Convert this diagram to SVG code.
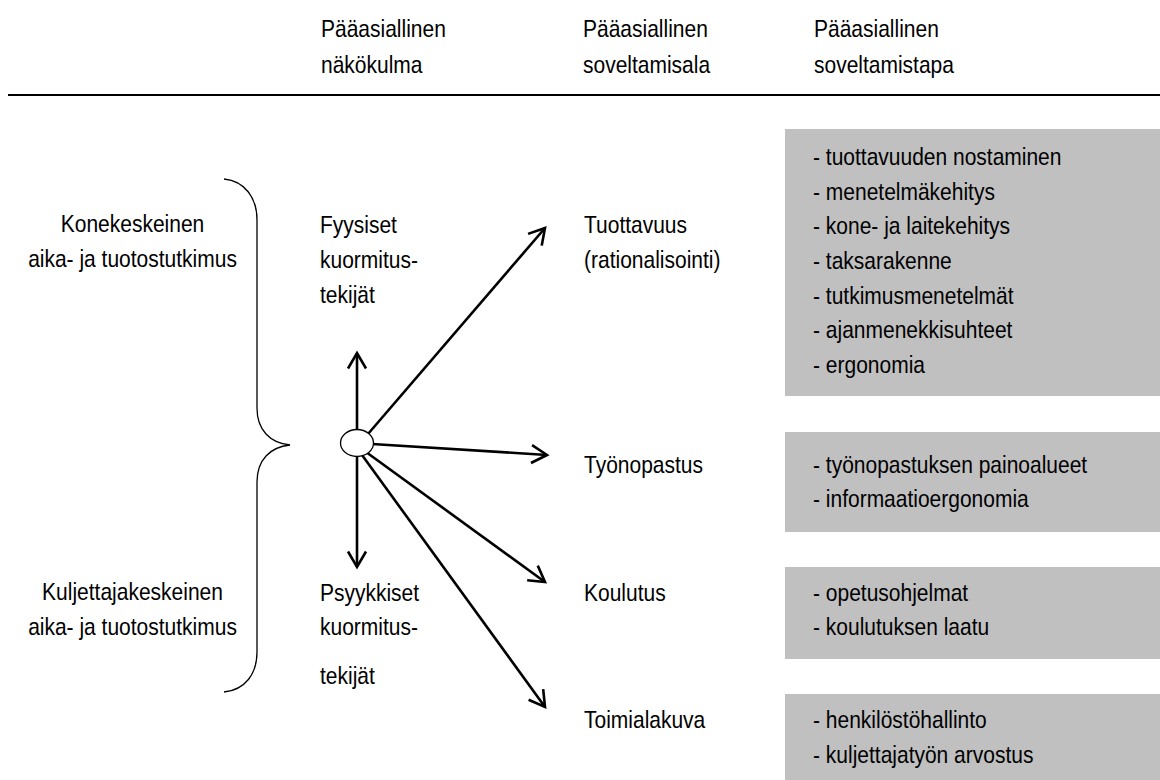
<svg xmlns="http://www.w3.org/2000/svg" width="1160" height="780" viewBox="0 0 1160 780">
<style>
.t{font-family:"Liberation Sans",Arial,sans-serif;font-size:24px;fill:#000}
.c{text-anchor:middle}
.box{fill:#c0c0c0;stroke:none}
.arr{stroke:#000;stroke-width:2.6;fill:none;marker-end:url(#ah)}
.brace{stroke:#000;stroke-width:1.3;fill:none}
</style>
<defs>
<marker id="ah" markerUnits="userSpaceOnUse" markerWidth="24" markerHeight="24" refX="17" refY="10" orient="auto" overflow="visible">
<path d="M1.5,1 L17,10 L1.5,19" fill="none" stroke="#000" stroke-width="2.6"/>
</marker>
</defs>
<rect width="1160" height="780" fill="#fff"/>
<g id="header">
<text class="t" transform="translate(321,37) scale(0.875,1)"><tspan x="0" y="0">Pääasiallinen</tspan><tspan x="0" y="36">näkökulma</tspan></text>
<text class="t" transform="translate(583,37) scale(0.875,1)"><tspan x="0" y="0">Pääasiallinen</tspan><tspan x="0" y="36">soveltamisala</tspan></text>
<text class="t" transform="translate(814,37) scale(0.875,1)"><tspan x="0" y="0">Pääasiallinen</tspan><tspan x="0" y="36">soveltamistapa</tspan></text>
<line x1="8" y1="95" x2="1160" y2="95" stroke="#000" stroke-width="2"/>
</g>
<g id="kone">
<text class="t c" transform="translate(132.5,232) scale(0.875,1)"><tspan x="0" y="0">Konekeskeinen</tspan><tspan x="0" y="35">aika- ja tuotostutkimus</tspan></text>
</g>
<g id="kuljettaja">
<text class="t c" transform="translate(132.5,600) scale(0.875,1)"><tspan x="0" y="0">Kuljettajakeskeinen</tspan><tspan x="0" y="35">aika- ja tuotostutkimus</tspan></text>
</g>
<g id="brace">
<path class="brace" d="M224,179 C245,181 257,198 257,220 L257,408 C257,430 270,443 290,445 C270,447 257,460 257,482 L257,652 C257,674 245,690 224,692"/>
</g>
<g id="fyysiset">
<text class="t" transform="translate(320,233) scale(0.875,1)"><tspan x="0" y="0">Fyysiset</tspan><tspan x="0" y="35">kuormitus-</tspan><tspan x="0" y="70">tekijät</tspan></text>
</g>
<g id="psyykkiset">
<text class="t" transform="translate(320,601) scale(0.875,1)"><tspan x="0" y="0">Psyykkiset</tspan><tspan x="0" y="34">kuormitus-</tspan><tspan x="0" y="83">tekijät</tspan></text>
</g>
<g id="connectors">
<line class="arr" x1="357" y1="432" x2="357" y2="353"/>
<line class="arr" x1="357" y1="455" x2="357" y2="567"/>
<line class="arr" x1="368" y1="434" x2="545" y2="228"/>
<line class="arr" x1="372" y1="444" x2="547" y2="455"/>
<line class="arr" x1="366" y1="452" x2="545" y2="582"/>
<line class="arr" x1="362" y1="455" x2="545" y2="707"/>
</g>
<g id="center">
<ellipse cx="357" cy="443" rx="16.5" ry="13.5" fill="#fff" stroke="#000" stroke-width="1.3"/>
</g>
<g id="tuottavuus">
<text class="t" transform="translate(584,233) scale(0.875,1)"><tspan x="0" y="0">Tuottavuus</tspan><tspan x="0" y="35">(rationalisointi)</tspan></text>
</g>
<g id="tyonopastus">
<text class="t" transform="translate(584,473) scale(0.875,1)">Työnopastus</text>
</g>
<g id="koulutus">
<text class="t" transform="translate(584,601) scale(0.875,1)">Koulutus</text>
</g>
<g id="toimialakuva">
<text class="t" transform="translate(584,728) scale(0.875,1)">Toimialakuva</text>
</g>
<g id="box1">
<rect class="box" x="785" y="129" width="375" height="267"/>
<text class="t" transform="translate(813,165) scale(0.875,1)"><tspan x="0" y="0">- tuottavuuden nostaminen</tspan><tspan x="0" y="34.7">- menetelmäkehitys</tspan><tspan x="0" y="69.3">- kone- ja laitekehitys</tspan><tspan x="0" y="104">- taksarakenne</tspan><tspan x="0" y="138.7">- tutkimusmenetelmät</tspan><tspan x="0" y="173.3">- ajanmenekkisuhteet</tspan><tspan x="0" y="208">- ergonomia</tspan></text>
</g>
<g id="box2">
<rect class="box" x="785" y="432" width="375" height="100"/>
<text class="t" transform="translate(813,473) scale(0.875,1)"><tspan x="0" y="0">- työnopastuksen painoalueet</tspan><tspan x="0" y="34.5">- informaatioergonomia</tspan></text>
</g>
<g id="box3">
<rect class="box" x="785" y="567" width="375" height="92"/>
<text class="t" transform="translate(813,601) scale(0.875,1)"><tspan x="0" y="0">- opetusohjelmat</tspan><tspan x="0" y="34.5">- koulutuksen laatu</tspan></text>
</g>
<g id="box4">
<rect class="box" x="785" y="694" width="375" height="86"/>
<text class="t" transform="translate(813,728) scale(0.875,1)"><tspan x="0" y="0">- henkilöstöhallinto</tspan><tspan x="0" y="35">- kuljettajatyön arvostus</tspan></text>
</g>
</svg>
